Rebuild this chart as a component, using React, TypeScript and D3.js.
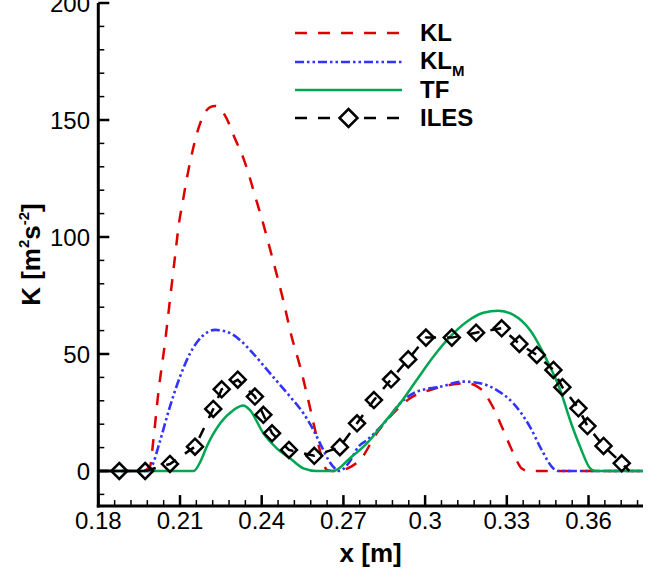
import React from 'react';
import * as d3 from 'd3';

// KL (red dashed)
const klX = [0.18, 0.1965, 0.199, 0.2002, 0.202, 0.2045, 0.2063, 0.208, 0.2097, 0.211, 0.2125, 0.2137, 0.2164, 0.2186, 0.2211, 0.2229, 0.2265, 0.2302, 0.2333, 0.2357, 0.2382, 0.24, 0.2437, 0.2479, 0.251, 0.2541, 0.2571, 0.2596, 0.262, 0.2639, 0.266, 0.268, 0.27, 0.273, 0.2761, 0.2822, 0.2883, 0.2945, 0.3018, 0.3092, 0.3153, 0.3202, 0.3245, 0.3287, 0.3324, 0.3355, 0.338, 0.38];
const klY = [0, 0, 2, 13, 33, 55, 73, 90, 106.5, 115, 125, 132, 145, 152, 155.5, 156, 152, 142, 133.6, 125, 115, 108, 92, 73, 57.4, 44.6, 30.3, 17.5, 6, 0.5, 0, 0, 0.5, 2, 4.7, 16.1, 24.7, 31.1, 34.6, 36.8, 37.5, 35.3, 28.2, 17.5, 7.6, 1.1, 0, 0];

// KL_M (blue dash-dot-dot)
const klmX = [0.18, 0.1985, 0.1996, 0.2027, 0.2063, 0.21, 0.2137, 0.218, 0.2229, 0.2272, 0.232, 0.2357, 0.2431, 0.2504, 0.2553, 0.259, 0.262, 0.2645, 0.2669, 0.2685, 0.272, 0.2755, 0.2786, 0.2859, 0.2908, 0.2969, 0.3055, 0.314, 0.3202, 0.3263, 0.3324, 0.3385, 0.3428, 0.3471, 0.349, 0.38];
const klmY = [0, 0, 1.8, 13, 27.5, 40.3, 50.3, 57.4, 60.3, 59.5, 56, 51.7, 41.7, 31.8, 24.7, 17.5, 10.4, 4.7, 1.1, 0, 3.5, 10.4, 13.2, 21.8, 28.9, 33.9, 36, 38.2, 37.5, 34.6, 28.9, 18.9, 9, 1.1, 0, 0];

// TF (green solid)
const tfX = [0.18, 0.215, 0.2175, 0.2198, 0.2247, 0.2296, 0.2332, 0.2357, 0.2406, 0.2455, 0.2504, 0.2553, 0.26, 0.2663, 0.2724, 0.2786, 0.2847, 0.2908, 0.2969, 0.303, 0.3092, 0.3153, 0.3214, 0.3269, 0.3324, 0.3385, 0.3447, 0.3496, 0.3532, 0.3569, 0.3606, 0.3625, 0.38];
const tfY = [0, 0, 4, 10.4, 20.3, 26, 28, 26, 16.1, 9.7, 5.4, 1.1, 0, 0, 5.5, 11.8, 20.3, 28.9, 38.9, 48.8, 57.4, 63.8, 67.6, 68.5, 66.7, 60.3, 47.4, 34.6, 21.8, 10.4, 1.1, 0, 0];

// ILES (black dashed with diamonds)
const ilesX = [0.1877, 0.1972, 0.2063, 0.2155, 0.2222, 0.2253, 0.2312, 0.2375, 0.2406, 0.2438, 0.25, 0.2593, 0.2687, 0.275, 0.2812, 0.2875, 0.2938, 0.3003, 0.3098, 0.3187, 0.3281, 0.3346, 0.341, 0.3471, 0.3504, 0.3563, 0.3596, 0.3655, 0.3722];
const ilesY = [0, 0, 3, 10.4, 26.5, 34.9, 39, 31.8, 24, 16.1, 9, 6.5, 10.2, 20.4, 30.3, 39.2, 47.7, 57, 57, 59.1, 61, 54.3, 49.6, 43.2, 35.8, 26.8, 19.2, 10.7, 3.3];
const ilesLineStart = [0.18, 0];
const ilesLineEnd = [0.375, 0];

const xMajorTicks = [0.18, 0.21, 0.24, 0.27, 0.3, 0.33, 0.36];
const xTickLabels = ['0.18', '0.21', '0.24', '0.27', '0.3', '0.33', '0.36'];
const yMajorTicks = [0, 50, 100, 150, 200];
const yTickLabels = ['0', '50', '100', '150', '200'];

const FONT = '"Liberation Sans", Arial, Helvetica, sans-serif';

export default function App() {
  const x = d3.scaleLinear().domain([0.18, 0.38]).range([98.3, 643]);
  const y = d3.scaleLinear().domain([-15, 200]).range([506.1, 3]);

  const xMinor = d3.range(0, 34).map((i) => 0.18 + i * 0.006);
  const yMinor = d3.range(-10, 200, 10);

  const line = d3
    .line<[number, number]>()
    .x((d) => x(d[0]))
    .y((d) => y(d[1]))
    .curve(d3.curveMonotoneX);
  const lineLin = d3
    .line<[number, number]>()
    .x((d) => x(d[0]))
    .y((d) => y(d[1]));

  const kl = klX.map((v, i) => [v, klY[i]] as [number, number]);
  const klm = klmX.map((v, i) => [v, klmY[i]] as [number, number]);
  const tf = tfX.map((v, i) => [v, tfY[i]] as [number, number]);
  const iles = ilesX.map((v, i) => [v, ilesY[i]] as [number, number]);
  const ilesLine = [...iles.slice(1), ilesLineEnd as [number, number]];
  const ilesStart = [ilesLineStart as [number, number], iles[0], iles[1]];

  const x0 = x.range()[0];
  const x1 = x.range()[1];
  const yb = y.range()[0];
  const yt = y.range()[1];

  const diamond = (cx: number, cy: number, r: number) =>
    `M${cx},${cy - r}L${cx + r},${cy}L${cx},${cy + r}L${cx - r},${cy}Z`;

  const red = '#dd0000';
  const blue = '#3333ff';
  const green = '#00a651';
  const klmDash = '9 3 2.5 3 2.5 3';

  const legendRows = [33, 62, 90, 118];
  const lx1 = 295;
  const lx2 = 402;
  const tx = 420;

  return (
    <svg
      width={670}
      height={571}
      style={{ position: 'absolute', left: 0, top: 0, background: '#fff' }}
      fontFamily={FONT}
    >
      {/* curves */}
      <path d={line(kl) || ''} fill="none" stroke={red} strokeWidth={2.5} strokeDasharray="12 11" />
      <path d={line(klm) || ''} fill="none" stroke={blue} strokeWidth={2.6} strokeDasharray={klmDash} />
      <path d={line(tf) || ''} fill="none" stroke={green} strokeWidth={2.5} />
      <path d={lineLin(ilesStart) || ''} fill="none" stroke="#000" strokeWidth={2.5} />
      <path d={lineLin(ilesLine) || ''} fill="none" stroke="#000" strokeWidth={2.5} strokeDasharray="11 11" />
      {iles.map((d, i) => (
        <path key={i} d={diamond(x(d[0]), y(d[1]), 8)} fill="none" stroke="#000" strokeWidth={2.5} />
      ))}

      {/* axes */}
      <line x1={x0} x2={x0} y1={yb + 1.5} y2={yt} stroke="#000" strokeWidth={3} />
      <line x1={x0 - 1.5} x2={x1} y1={yb} y2={yb} stroke="#000" strokeWidth={3} />
      {yMinor.map((v) => (
        <line key={'ym' + v} x1={x0} x2={x0 + 6} y1={y(v)} y2={y(v)} stroke="#000" strokeWidth={1.5} />
      ))}
      {yMajorTicks.map((v, i) => (
        <g key={'yM' + v}>
          <line x1={x0} x2={x0 + 11} y1={y(v)} y2={y(v)} stroke="#000" strokeWidth={2.5} />
          <text x={90} y={y(v)} dy="0.36em" textAnchor="end" fontSize={24}>
            {yTickLabels[i]}
          </text>
        </g>
      ))}
      {xMinor.map((v, i) => (
        <line key={'xm' + i} x1={x(v)} x2={x(v)} y1={yb} y2={yb - 6} stroke="#000" strokeWidth={1.5} />
      ))}
      {xMajorTicks.map((v, i) => (
        <g key={'xM' + v}>
          <line x1={x(v)} x2={x(v)} y1={yb} y2={yb - 11} stroke="#000" strokeWidth={2.5} />
          <text x={x(v)} y={529} textAnchor="middle" fontSize={24}>
            {xTickLabels[i]}
          </text>
        </g>
      ))}

      {/* axis titles */}
      <text x={(x0 + x1) / 2} y={562} textAnchor="middle" fontSize={26} fontWeight="bold">
        x [m]
      </text>
      <text
        transform={`translate(40,${(yb + yt) / 2}) rotate(-90)`}
        textAnchor="middle"
        fontSize={26}
        fontWeight="bold"
      >
        K [m<tspan fontSize={15} dy={-11}>2</tspan>
        <tspan dy={11}>s</tspan>
        <tspan fontSize={15} dy={-11}>-2</tspan>
        <tspan dy={11}>]</tspan>
      </text>

      {/* legend */}
      <line x1={lx1} x2={lx2} y1={legendRows[0]} y2={legendRows[0]} stroke={red} strokeWidth={2.5} strokeDasharray="12 11" />
      <line x1={lx1} x2={lx2} y1={legendRows[1]} y2={legendRows[1]} stroke={blue} strokeWidth={2.6} strokeDasharray={klmDash} />
      <line x1={lx1} x2={lx2} y1={legendRows[2]} y2={legendRows[2]} stroke={green} strokeWidth={2.5} />
      <line x1={lx1} x2={lx2} y1={legendRows[3]} y2={legendRows[3]} stroke="#000" strokeWidth={2.5} strokeDasharray="12 11" />
      <rect x={(lx1 + lx2) / 2 - 12} y={legendRows[3] - 10} width={24} height={20} fill="#fff" />
      <path d={diamond((lx1 + lx2) / 2, legendRows[3], 9)} fill="none" stroke="#000" strokeWidth={2.5} />

      <text x={tx} y={legendRows[0] + 8} fontSize={24} fontWeight="bold">KL</text>
      <text x={tx} y={legendRows[1] + 7} fontSize={24} fontWeight="bold">
        KL<tspan fontSize={15} dy={7}>M</tspan>
      </text>
      <text x={tx} y={legendRows[2] + 8} fontSize={24} fontWeight="bold">TF</text>
      <text x={tx} y={legendRows[3] + 8} fontSize={24} fontWeight="bold">ILES</text>
    </svg>
  );
}
